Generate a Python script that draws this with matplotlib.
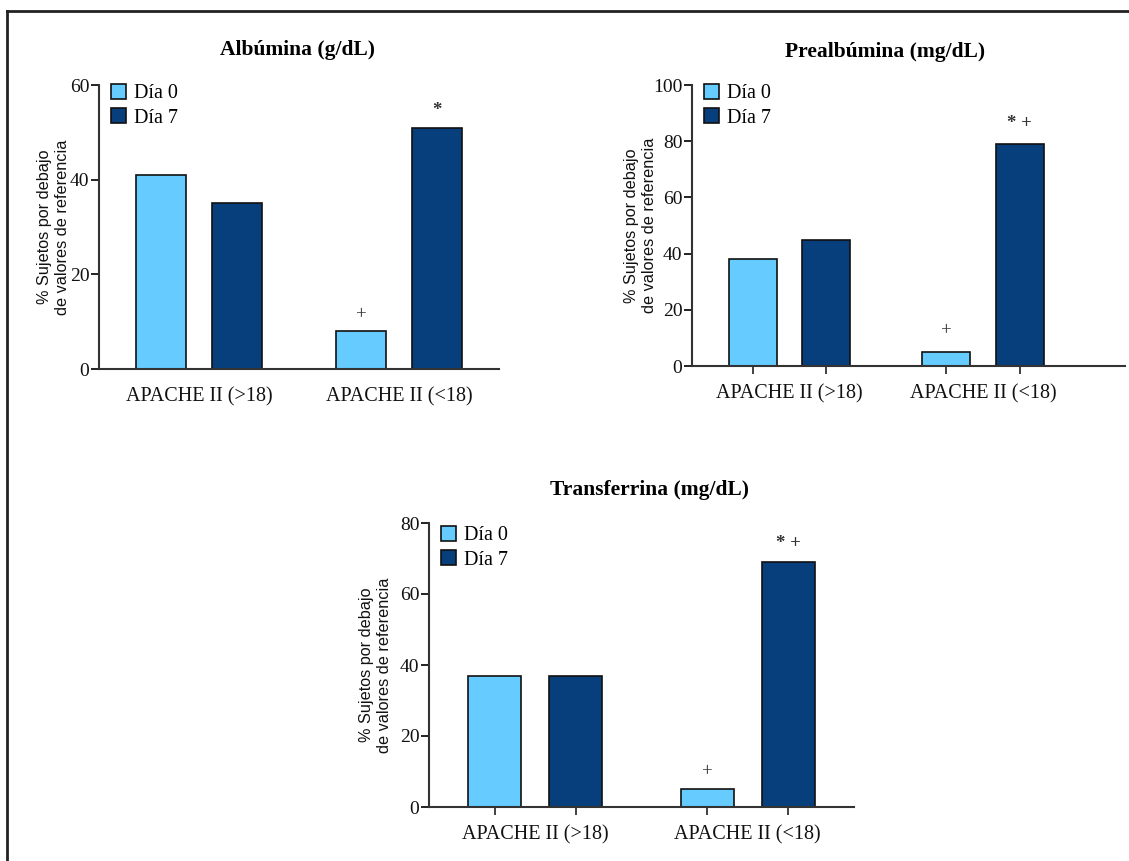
import numpy as np
import matplotlib
matplotlib.use("Agg")
import matplotlib.pyplot as plt
from matplotlib.lines import Line2D

# data
groups = ['APACHE II (>18)', 'APACHE II (<18)']
series = ['Día 0', 'Día 7']
titles = ['Albúmina (g/dL)', 'Prealbúmina (mg/dL)', 'Transferrina (mg/dL)']
dia0 = [[41, 8], [38, 5], [37, 5]]
dia7 = [[35, 51], [45, 79], [37, 69]]
ymax = [60, 100, 80]
yticks = [[0, 20, 40, 60], [0, 20, 40, 60, 80, 100], [0, 20, 40, 60, 80]]
# significance marks: (panel, series index, group index, text)
marks = [(0, 0, 1, '+'), (0, 1, 1, '*'),
         (1, 0, 1, '+'), (1, 1, 1, '* +'),
         (2, 0, 1, '+'), (2, 1, 1, '* +')]

colors = ['#66CCFF', '#073F7C']
serif = ['Liberation Serif', 'DejaVu Serif']
W, H = 1129, 861

# axes boxes in pixels: left, right, top, bottom
boxes = [(99, 499, 85, 369), (692, 1125, 85, 366), (429, 854, 523, 807)]
xlims = [(-0.5, 1.5), (-0.504, 1.734), (-0.5, 1.5)]
title_pos = [(298, 50), (885, 52), (649, 490)]
ylab_off = [29, 35, 37]
leg_dy = [1, 1, -3]
mark_dy = [12, 15, 13]

fig = plt.figure(figsize=(W / 100, H / 100), dpi=100)

# frame lines (left and top only)
fig.add_artist(Line2D([7 / W, 7 / W], [0, 1 - 11 / H], color='#222222', lw=2))
fig.add_artist(Line2D([7 / W, 1], [1 - 11 / H, 1 - 11 / H], color='#222222', lw=2))

off, bw = 0.19, 0.25
x = np.arange(len(groups))
for i in range(3):
    l, r, t, b = boxes[i]
    ax = fig.add_axes([l / W, 1 - b / H, (r - l) / W, (b - t) / H])
    vals = [dia0[i], dia7[i]]
    for s in range(2):
        ax.bar(x + (s - 0.5) * 2 * off, vals[s], bw, color=colors[s],
               edgecolor='#111111', linewidth=1.2, label=series[s], zorder=2)
    ax.set_xlim(*xlims[i])
    ax.set_ylim(0, ymax[i])
    ax.set_yticks(yticks[i])
    ax.set_yticklabels([str(v) for v in yticks[i]], family=serif, fontsize=14)
    if i == 0:
        ax.set_xticks(x)
        ax.set_xticklabels(groups, family=serif, fontsize=14.5, color='#111111')
        ax.tick_params(axis='x', length=0, pad=13)
    else:
        ax.set_xticks(np.concatenate([x - off, x + off]))
        ax.tick_params(axis='x', length=6, width=1.3, pad=0, labelbottom=False)
        for g, gx in enumerate(x):
            ax.text(gx, -28 / (b - t) * ymax[i], groups[g], ha='center', va='center',
                    family=serif, fontsize=14.5, color='#111111')
    ax.tick_params(axis='y', length=6, width=1.3, pad=1, colors='#111111')
    ax.tick_params(axis='x', colors='#333333', labelcolor='#111111')
    for sp in ['top', 'right']:
        ax.spines[sp].set_visible(False)
    for sp in ['left', 'bottom']:
        ax.spines[sp].set_linewidth(1.5)
        ax.spines[sp].set_color('#333333')

    ax.set_ylabel('% Sujetos por debajo\nde valores de referencia',
                  family=['Liberation Sans', 'DejaVu Sans'], fontsize=11.7,
                  linespacing=1.25, color='#111111')
    ax.yaxis.set_label_coords(-ylab_off[i] / (r - l), 0.5)

    ax.legend(loc='upper left', bbox_to_anchor=(12 / (r - l), 1 + leg_dy[i] / (b - t)),
              frameon=False, borderpad=0, borderaxespad=0, handlelength=0.75,
              handleheight=0.75, handletextpad=0.4, labelspacing=0.25,
              prop={'family': serif, 'size': 14.5})

    fig.text(title_pos[i][0] / W, 1 - title_pos[i][1] / H, titles[i], ha='center',
             va='center', family=serif, fontsize=15.5, fontweight='bold')

    for p, s, g, txt in marks:
        if p != i:
            continue
        v = vals[s][g]
        ax.annotate(txt, (x[g] + (s - 0.5) * 2 * off, v), xytext=(0, mark_dy[i]),
                    textcoords='offset points', ha='center', va='center',
                    family=serif, fontsize=13.5, color='#333333',
                    fontweight='bold' if '*' in txt else 'normal')

fig.savefig('out.png', dpi=100)
